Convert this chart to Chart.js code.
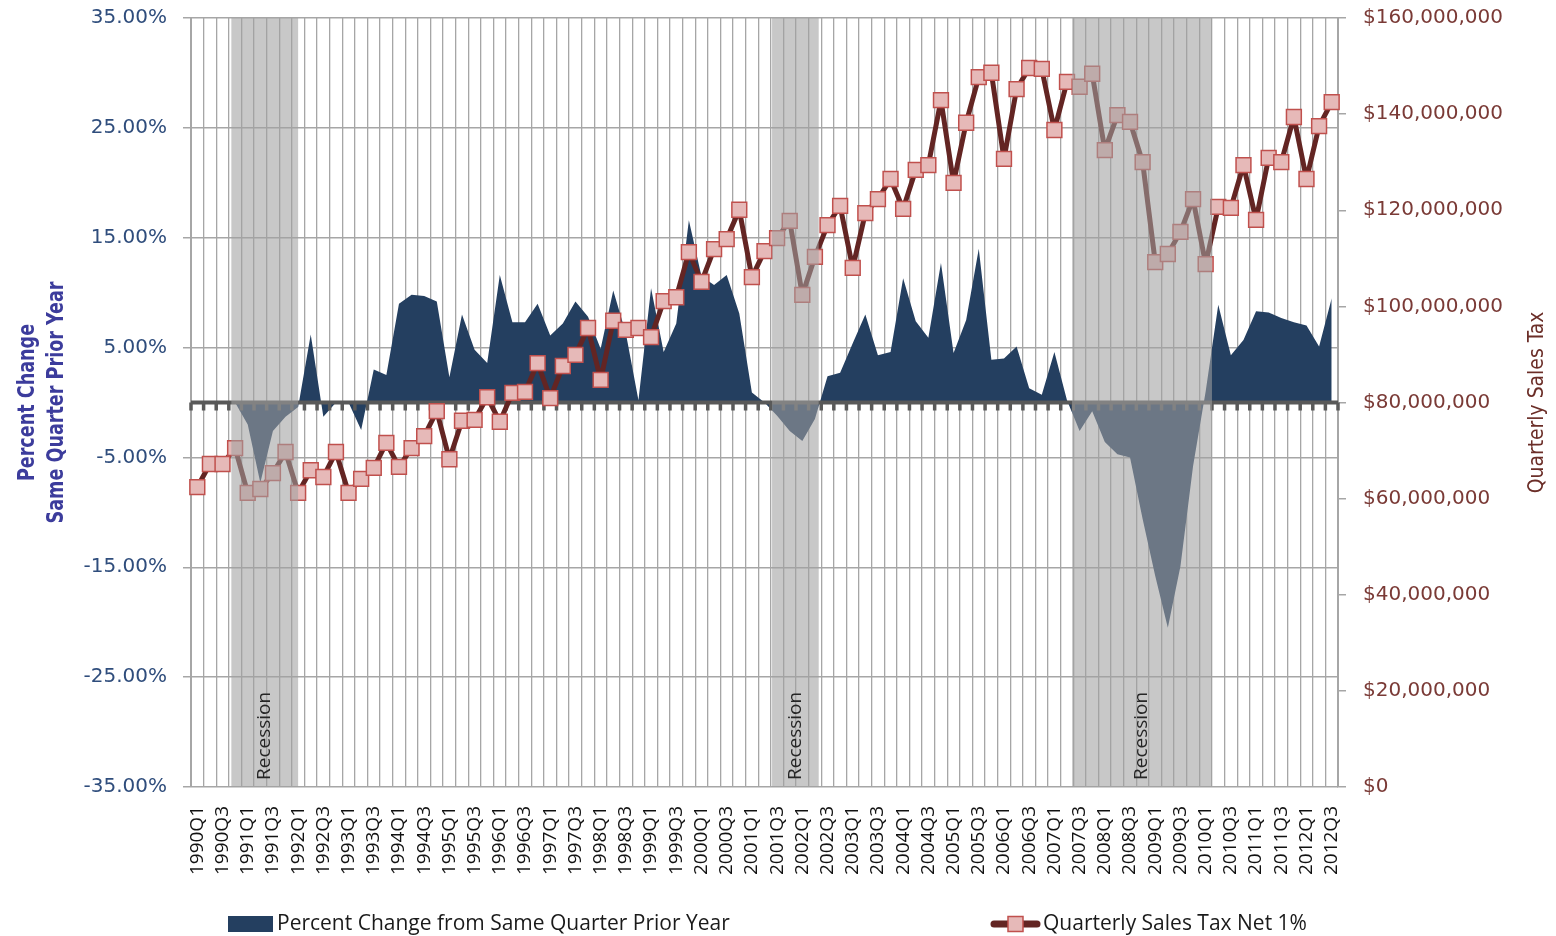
<!DOCTYPE html>
<html>
<head>
<meta charset="utf-8">
<title>Quarterly Sales Tax</title>
<script src="https://cdn.jsdelivr.net/npm/chart.js@4.4.1/dist/chart.umd.min.js"></script>
<style>
  html, body { margin: 0; padding: 0; background: #fff; }
</style>
</head>
<body>
<canvas id="myChart" width="1556" height="936"></canvas>
<script>
// quarters 1990Q1 .. 2012Q3
const quarters = [];
for (let yr = 1990; yr <= 2012; yr++) {
    for (let q = 1; q <= 4; q++) {
        if (yr === 2012 && q === 4) break;
        quarters.push(yr + 'Q' + q);
    }
}

// percent change from same quarter prior year
const pctChange = [
    0, 0, 0, 0, -2.0, -7.3, -2.6, -1.3, -0.4, 6.2,
    -1.3, 0, 0, -2.5, 3.0, 2.5, 9.0, 9.8, 9.7, 9.2,
    2.3, 8.0, 4.8, 3.6, 11.6, 7.3, 7.3, 9.0, 6.1, 7.2,
    9.2, 7.8, 4.9, 10.2, 6.3, 0.2, 10.4, 4.6, 7.2, 16.6,
    11.5, 10.7, 11.6, 8.1, 0.9, 0, -1.2, -2.6, -3.5, -1.5,
    2.4, 2.7, 5.4, 8.0, 4.3, 4.6, 11.3, 7.4, 5.9, 12.7,
    4.5, 7.5, 14.0, 3.9, 4.0, 5.1, 1.3, 0.7, 4.6, 0.2,
    -2.6, -0.8, -3.6, -4.7, -5.0, -10.6, -15.8, -20.5, -14.9, -5.8,
    1.0, 8.9, 4.3, 5.7, 8.3, 8.2, 7.7, 7.3, 7.0, 5.1,
    9.5
];

// quarterly sales tax net 1%, millions of dollars
const salesTax = [
    62.4, 67.2, 67.2, 70.5, 61.2, 62.0, 65.3, 69.7, 61.2, 65.9,
    64.5, 69.7, 61.2, 64.1, 66.4, 71.6, 66.6, 70.5, 73.0, 78.2,
    68.2, 76.2, 76.4, 81.1, 76.0, 82.0, 82.2, 88.2, 80.9, 87.6,
    89.9, 95.5, 84.7, 97.0, 95.1, 95.5, 93.6, 101.1, 101.9, 111.3,
    105.1, 111.9, 114.0, 120.1, 106.1, 111.5, 114.2, 117.8, 102.4, 110.3,
    116.9, 120.9, 108.0, 119.4, 122.3, 126.5, 120.3, 128.4, 129.4, 142.9,
    125.7, 138.2, 147.7, 148.6, 130.7, 145.2, 149.6, 149.4, 136.7, 146.7,
    145.7, 148.4, 132.5, 139.8, 138.4, 130.0, 109.2, 110.9, 115.5, 122.3,
    108.8, 120.7, 120.5, 129.4, 118.0, 130.9, 130.0, 139.4, 126.5, 137.5,
    142.5
];

// recession shading, in quarter-index units
const recessions = [
    { from: 2.7, to: 8.0 },
    { from: 45.6, to: 49.3 },
    { from: 69.4, to: 80.5 }
];

const leftTitle = ['Percent Change', 'Same Quarter Prior Year'];
const rightTitle = 'Quarterly Sales Tax';

const gridGrey = '#a6a6a6';
const narrow = '"Liberation Sans Narrow", "DejaVu Sans Condensed", sans-serif';

// category axis drawn across the zero line
const zeroAxis = {
    id: 'zeroAxis',
    afterDatasetDraw(chart, args) {
        if (args.index !== 0) return;
        const { ctx, chartArea: a, scales: { x, y } } = chart;
        const y0 = y.getPixelForValue(0);
        ctx.save();
        ctx.strokeStyle = '#595959';
        ctx.lineWidth = 4;
        ctx.beginPath();
        ctx.moveTo(a.left, y0);
        ctx.lineTo(a.right, y0);
        ctx.stroke();
        ctx.lineWidth = 3.5;
        ctx.beginPath();
        for (let i = 0; i <= quarters.length; i++) {
            const px = x.getPixelForValue(i - 0.5);
            ctx.moveTo(px, y0);
            ctx.lineTo(px, y0 + 8);
        }
        ctx.stroke();
        ctx.restore();
    }
};

const recessionBands = {
    id: 'recessionBands',
    afterDatasetsDraw(chart) {
        const { ctx, chartArea: a, scales: { x } } = chart;
        ctx.save();
        recessions.forEach(r => {
            const x0 = x.getPixelForValue(r.from);
            const x1 = x.getPixelForValue(r.to);
            ctx.fillStyle = 'rgba(160,160,160,0.58)';
            ctx.fillRect(x0, a.top, x1 - x0, a.bottom - a.top);
            ctx.save();
            ctx.translate((x0 + x1) / 2, a.bottom - 7);
            ctx.rotate(-Math.PI / 2);
            ctx.fillStyle = '#262626';
            ctx.font = '19px "Open Sans"';
            ctx.textAlign = 'left';
            ctx.textBaseline = 'middle';
            ctx.fillText('Recession', 0, 0);
            ctx.restore();
        });
        ctx.restore();
    }
};

function drawUpText(ctx, text, x, y, squeeze) {
    ctx.save();
    ctx.translate(x, y);
    ctx.rotate(-Math.PI / 2);
    ctx.scale(squeeze, 1);
    ctx.textAlign = 'center';
    ctx.textBaseline = 'middle';
    ctx.fillText(text, 0, 0);
    ctx.restore();
}

const extras = {
    id: 'extras',
    afterDraw(chart) {
        const { ctx, chartArea: a } = chart;
        const [area, line] = chart.data.datasets;
        const midY = (a.top + a.bottom) / 2;

        // axis titles, reading upwards
        ctx.save();
        ctx.font = 'bold 23px ' + narrow;
        ctx.fillStyle = '#3c3c9c';
        drawUpText(ctx, leftTitle[0], 28, midY, 0.85);
        drawUpText(ctx, leftTitle[1], 57, midY, 0.85);
        ctx.font = '22px ' + narrow;
        ctx.fillStyle = '#6b2e28';
        drawUpText(ctx, rightTitle, 1537, midY, 0.95);
        ctx.restore();

        // legend
        const cy = 924;
        ctx.save();
        ctx.font = '21px "Open Sans"';
        ctx.textBaseline = 'middle';
        ctx.textAlign = 'left';
        ctx.fillStyle = area.backgroundColor;
        ctx.fillRect(228, cy - 8, 45, 16);
        ctx.fillStyle = '#1a1a1a';
        ctx.fillText(area.label, 277, cy);

        ctx.strokeStyle = line.borderColor;
        ctx.lineWidth = 7;
        ctx.lineCap = 'round';
        ctx.beginPath();
        ctx.moveTo(994, cy);
        ctx.lineTo(1037, cy);
        ctx.stroke();
        ctx.fillStyle = line.pointBackgroundColor;
        ctx.strokeStyle = line.pointBorderColor;
        ctx.lineWidth = 1.5;
        ctx.fillRect(1008, cy - 7.5, 15, 15);
        ctx.strokeRect(1008, cy - 7.5, 15, 15);
        ctx.fillStyle = '#1a1a1a';
        ctx.fillText(line.label, 1043, cy);
        ctx.restore();
    }
};

window.onload = function () {
    const ctx = document.getElementById('myChart');

    const data = {
        labels: quarters,
        datasets: [{
            type: 'line',
            label: 'Percent Change from Same Quarter Prior Year',
            data: pctChange,
            yAxisID: 'y',
            fill: 'origin',
            backgroundColor: '#243f60',
            borderWidth: 0,
            pointRadius: 0,
            tension: 0,
            order: 2
        }, {
            type: 'line',
            label: 'Quarterly Sales Tax Net 1%',
            data: salesTax,
            yAxisID: 'y1',
            fill: false,
            borderColor: '#632523',
            borderWidth: 5,
            borderJoinStyle: 'round',
            borderCapStyle: 'round',
            pointStyle: 'rect',
            pointRadius: 10.5,
            pointBackgroundColor: '#e6b9b8',
            pointBorderColor: '#c0504d',
            pointBorderWidth: 1.5,
            tension: 0,
            order: 1
        }]
    };

    new Chart(ctx, {
        data: data,
        plugins: [zeroAxis, recessionBands, extras],
        options: {
            responsive: false,
            animation: false,
            devicePixelRatio: 1,
            layout: { padding: { top: 18, left: 0, right: 0, bottom: 0 } },
            plugins: {
                legend: { display: false },
                tooltip: { enabled: false }
            },
            scales: {
                x: {
                    type: 'category',
                    offset: true,
                    grid: { color: gridGrey, lineWidth: 1.3, offset: true, drawTicks: false },
                    border: { display: false },
                    ticks: {
                        autoSkip: false,
                        minRotation: 90,
                        maxRotation: 90,
                        padding: 19,
                        color: '#111',
                        font: { family: 'Open Sans', size: 19 },
                        callback: (v, i) => (i % 2 === 0 ? quarters[i] : '')
                    },
                    afterFit: s => { s.height = 149; s.paddingLeft = 0; s.paddingRight = 0; }
                },
                y: {
                    position: 'left',
                    min: -35,
                    max: 35,
                    ticks: {
                        stepSize: 10,
                        padding: 16,
                        color: '#2f4d7c',
                        font: { family: 'DejaVu Sans', size: 20 },
                        callback: v => v.toFixed(2) + '%'
                    },
                    grid: { color: gridGrey, lineWidth: 1.5, tickLength: 8, tickColor: gridGrey },
                    border: { color: gridGrey, width: 2 },
                    afterFit: s => { s.width = 191; s.paddingTop = 0; s.paddingBottom = 0; }
                },
                y1: {
                    position: 'right',
                    min: 0,
                    max: 160,
                    ticks: {
                        stepSize: 20,
                        padding: 17,
                        color: '#7a3a36',
                        font: { family: 'DejaVu Sans', size: 20 },
                        callback: v => '$' + (v * 1000000).toLocaleString('en-US')
                    },
                    grid: { drawOnChartArea: false, color: gridGrey, tickLength: 8, lineWidth: 1.5 },
                    border: { color: gridGrey, width: 2 },
                    afterFit: s => { s.width = 218; s.paddingTop = 0; s.paddingBottom = 0; }
                }
            }
        }
    });
};
</script>
</body>
</html>
